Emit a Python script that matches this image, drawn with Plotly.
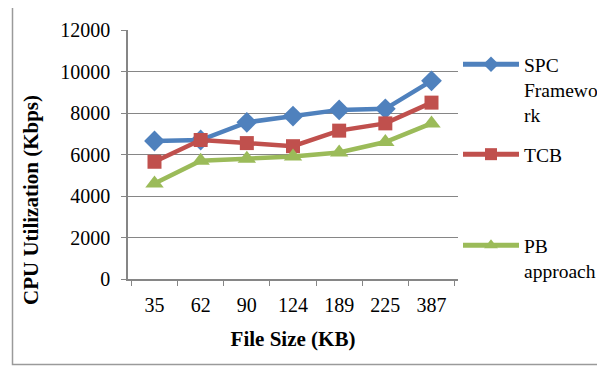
import plotly.graph_objects as go

file_sizes = ["35", "62", "90", "124", "189", "225", "387"]
spc = [6650, 6700, 7550, 7850, 8150, 8200, 9550]
tcb = [5650, 6700, 6550, 6400, 7150, 7500, 8500]
pb = [4600, 5700, 5800, 5900, 6100, 6600, 7500]
y_ticks = [0, 2000, 4000, 6000, 8000, 10000, 12000]
y_tick_text = ["0", "2000", "4000", "6000", "8000", "10000", "12000"]

font_family = "Times New Roman, Liberation Serif, serif"
W, H = 605, 366
OFF = 8  # page body margin offset
L, T = 128 - OFF, 30 - OFF
pw, ph = 330, 249
R, B = W - L - pw, H - T - ph

def px_x(x):
    return (x - OFF - L) / pw

def px_y(y):
    return (T + ph - (y - OFF)) / ph

fig = go.Figure()
series = [
    ("SPC<br>Framewo<br>rk", spc, "#4F81BD", "diamond", 16, "legend"),
    ("TCB", tcb, "#C0504D", "square", 14, "legend2"),
    ("PB<br>approach", pb, "#9BBB59", "triangle-up", 16, "legend3"),
]
for name, vals, color, sym, size, lg in series:
    fig.add_trace(go.Scatter(
        x=file_sizes, y=vals, name=name, mode="lines+markers",
        line=dict(color=color, width=4.5),
        marker=dict(symbol=sym, size=size, color=color),
        legend=lg,
    ))

legend_common = dict(
    font=dict(family=font_family, size=19.5, color="#000"),
    bgcolor="rgba(0,0,0,0)", xanchor="left", yanchor="top",
    itemwidth=56, tracegroupgap=0, valign="top", itemsizing="constant",
)
fig.update_layout(
    width=W, height=H,
    margin=dict(l=L, r=R, t=T, b=B, autoexpand=False),
    paper_bgcolor="white", plot_bgcolor="white",
    font=dict(family=font_family, size=20, color="#000"),
    showlegend=True,
    legend=dict(x=px_x(458), y=px_y(45), **legend_common),
    legend2=dict(x=px_x(458), y=px_y(135), **legend_common),
    legend3=dict(x=px_x(458), y=px_y(226), **legend_common),
    xaxis=dict(
        type="category", tickson="boundaries", ticks="outside", ticklen=5,
        tickcolor="#868686", showline=True, linecolor="#868686", linewidth=1.5,
        showgrid=False, tickfont=dict(size=20, family=font_family),
        automargin=False, ticklabelstandoff=7,
        title=dict(text="<b>File Size (KB)</b>", font=dict(size=21, family=font_family), standoff=17),
    ),
    yaxis=dict(
        range=[0, 12000], tickvals=y_ticks, ticktext=y_tick_text,
        ticks="outside", ticklen=5, automargin=False,
        tickcolor="#868686", showline=True, linecolor="#868686", linewidth=1.5,
        showgrid=True, gridcolor="#868686", gridwidth=1.2, zeroline=False,
        tickfont=dict(size=20, family=font_family), ticklabelstandoff=7,
    ),
    shapes=[dict(
        type="rect", xref="paper", yref="paper",
        x0=px_x(12.5), x1=px_x(630), y0=px_y(364.5), y1=px_y(5.5),
        line=dict(color="#9a9a9a", width=1.5), fillcolor="rgba(0,0,0,0)", layer="below",
    )],
    annotations=[dict(
        text="<b>CPU Utilization (Kbps)</b>", textangle=-90,
        xref="paper", yref="paper", x=px_x(31), y=px_y(200),
        xanchor="center", yanchor="middle", showarrow=False,
        font=dict(size=21, family=font_family),
    )],
)

fig.write_html("out.html")
